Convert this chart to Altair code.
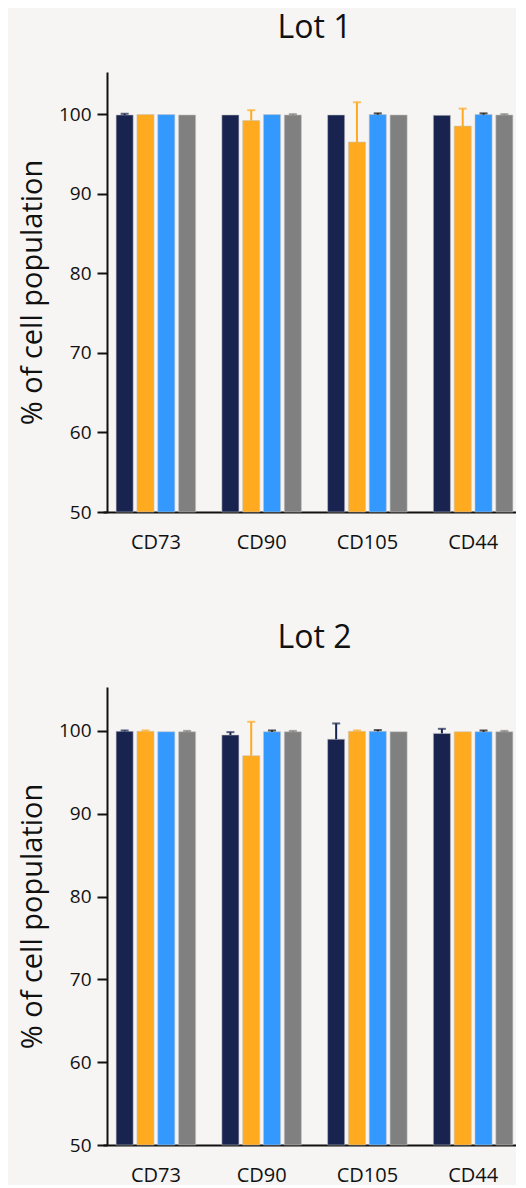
import altair as alt
import pandas as pd

markers = ["CD73", "CD90", "CD105", "CD44"]
series = ["Group 1", "Group 2", "Group 3", "Group 4"]
colors = ["#18234f", "#ffaa1f", "#3399ff", "#808080"]
err_colors = ["#18234f", "#ffaa1f", "#111111", "#808080"]

# Lot 1 – means (per series, in marker order) and upper error
lot1_g1 = [99.9, 99.9, 99.9, 99.85]
lot1_g2 = [99.95, 99.2, 96.5, 98.5]
lot1_g3 = [99.95, 99.95, 99.95, 99.95]
lot1_g4 = [99.9, 99.9, 99.9, 99.9]
lot1_e1 = [0.15, 0.0, 0.0, 0.0]
lot1_e2 = [0.0, 1.3, 5.0, 2.2]
lot1_e3 = [0.0, 0.0, 0.15, 0.15]
lot1_e4 = [0.0, 0.1, 0.0, 0.1]

# Lot 2
lot2_g1 = [99.95, 99.5, 99.0, 99.7]
lot2_g2 = [99.95, 97.0, 99.95, 99.9]
lot2_g3 = [99.9, 99.9, 99.95, 99.9]
lot2_g4 = [99.9, 99.9, 99.9, 99.9]
lot2_e1 = [0.1, 0.35, 1.9, 0.55]
lot2_e2 = [0.1, 4.1, 0.1, 0.0]
lot2_e3 = [0.0, 0.15, 0.15, 0.15]
lot2_e4 = [0.1, 0.1, 0.0, 0.1]

y_ticks = [50, 60, 70, 80, 90, 100]
FONT = "Open Sans"


def lot_frame(means, errs):
    rows = []
    for si, s in enumerate(series):
        for mi, m in enumerate(markers):
            rows.append(dict(marker=m, series=s, mean=means[si][mi],
                             err=errs[si][mi], hi=means[si][mi] + errs[si][mi],
                             ecolor=err_colors[si]))
    return pd.DataFrame(rows)


def lot_chart(title, df, height, title_offset):
    x = alt.X("marker:N", sort=markers,
              scale=alt.Scale(paddingInner=0, paddingOuter=0),
              axis=alt.Axis(title=None, labelAngle=0, ticks=False, labelPadding=20,
                            labelFontSize=20))
    xo = alt.XOffset("series:N", sort=series,
                     scale=alt.Scale(domain=series, paddingInner=0.18, paddingOuter=0.63))
    yscale = alt.Scale(domain=[50, 105.3], nice=False, zero=False)
    yaxis = alt.Axis(title="% of cell population", values=y_ticks, grid=False,
                     tickSize=10, labelPadding=6, labelFontSize=19,
                     titleFontSize=29, titlePadding=11, offset=-4)
    bars = alt.Chart(df).mark_bar(stroke="#c4c4c4", strokeWidth=0.8, strokeOpacity=0.7).encode(
        x=x, xOffset=xo,
        y=alt.Y("mean:Q", scale=yscale, axis=yaxis), y2=alt.datum(50),
        color=alt.Color("series:N", scale=alt.Scale(domain=series, range=colors), legend=None),
    )
    eb = alt.Chart(df).transform_filter("datum.err > 0").mark_rule(strokeWidth=2).encode(
        x=x, xOffset=xo,
        y=alt.Y("mean:Q", scale=yscale, axis=yaxis), y2="hi:Q",
        color=alt.Color("ecolor:N", scale=None),
    )
    caps = alt.Chart(df).transform_filter("datum.err > 0").mark_tick(size=8, thickness=2).encode(
        x=x, xOffset=xo,
        y=alt.Y("hi:Q", scale=yscale, axis=yaxis),
        color=alt.Color("ecolor:N", scale=None),
    )
    return alt.layer(bars, eb, caps).properties(
        width=423, height=height,
        title=alt.Title(title, fontSize=32, offset=title_offset),
    )


df1 = lot_frame([lot1_g1, lot1_g2, lot1_g3, lot1_g4], [lot1_e1, lot1_e2, lot1_e3, lot1_e4])
df2 = lot_frame([lot2_g1, lot2_g2, lot2_g3, lot2_g4], [lot2_e1, lot2_e2, lot2_e3, lot2_e4])

chart = alt.vconcat(
    lot_chart("Lot 1", df1, 440, 27),
    lot_chart("Lot 2", df2, 458, 32),
    spacing=70,
).configure(
    background="#f6f5f3",
    padding={"left": 10, "top": 4, "right": -10, "bottom": 0},
    font=FONT,
).configure_view(stroke=None).configure_axis(
    labelFont=FONT, titleFont=FONT, labelColor="#111", titleColor="#111",
    domainColor="#111", tickColor="#111", domainWidth=2, tickWidth=2,
    titleFontWeight="normal",
).configure_title(
    font=FONT, fontWeight="normal", color="#111", anchor="middle",
)

chart.save("out.html", embed_options={"renderer": "svg", "actions": False})
